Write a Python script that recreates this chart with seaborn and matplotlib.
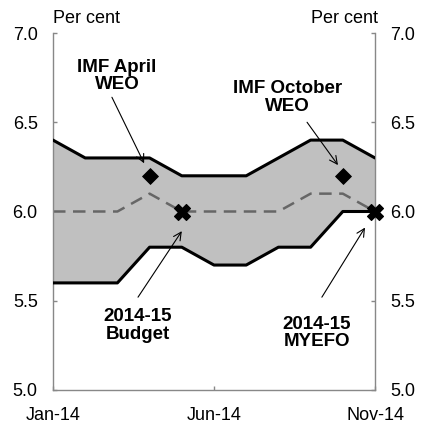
import matplotlib
matplotlib.use("Agg")
import matplotlib.pyplot as plt
import seaborn as sns
import pandas as pd
import numpy as np

months = ["Jan-14", "Feb-14", "Mar-14", "Apr-14", "May-14", "Jun-14",
          "Jul-14", "Aug-14", "Sep-14", "Oct-14", "Nov-14"]
upper = [6.4, 6.3, 6.3, 6.3, 6.2, 6.2, 6.2, 6.3, 6.4, 6.4, 6.3]
lower = [5.6, 5.6, 5.6, 5.8, 5.8, 5.7, 5.7, 5.8, 5.8, 6.0, 6.0]
middle = [6.0, 6.0, 6.0, 6.1, 6.0, 6.0, 6.0, 6.0, 6.1, 6.1, 6.0]
imf_months = ["Apr-14", "Oct-14"]
imf_values = [6.2, 6.2]
govt_months = ["May-14", "Nov-14"]
govt_values = [6.0, 6.0]
tick_labels = ["Jan-14", "Jun-14", "Nov-14"]

sns.set_style("white")
plt.rcParams['font.family'] = ['Liberation Sans', 'DejaVu Sans']
plt.rcParams['text.color'] = 'black'

idx = {m: i for i, m in enumerate(months)}
df = pd.DataFrame({"x": np.arange(len(months)), "upper": upper,
                   "lower": lower, "middle": middle})

fig = plt.figure(figsize=(4.24, 4.28), dpi=100)
ax = fig.add_axes([53/424, 1-390/428, (375-53)/424, (390-33)/428])

ax.fill_between(df["x"], df["lower"], df["upper"], color="#c0c0c0", lw=0, zorder=1)
sns.lineplot(data=df, x="x", y="upper", color="black", lw=2.2, ax=ax, zorder=3)
sns.lineplot(data=df, x="x", y="lower", color="black", lw=2.2, ax=ax, zorder=3)
sns.lineplot(data=df, x="x", y="middle", color="#666666", lw=1.8, ax=ax,
             dashes=False, zorder=2).lines[-1].set_dashes([5, 3])

sns.scatterplot(x=[idx[m] for m in imf_months], y=imf_values, marker="D",
                s=65, color="black", edgecolor="black", ax=ax, zorder=4)
sns.scatterplot(x=[idx[m] for m in govt_months], y=govt_values, marker="X",
                s=130, color="black", edgecolor="black", ax=ax, zorder=4,
                clip_on=False)

ax.set_xlim(0, 10)
ax.set_ylim(5.0, 7.0)
ax.set_xticks([idx[m] for m in tick_labels])
ax.set_xticklabels(tick_labels)
ax.set_yticks([5.0, 5.5, 6.0, 6.5, 7.0])
ax.set_yticklabels(["5.0", "5.5", "6.0", "6.5", "7.0"])
ax.set_xlabel("")
ax.set_ylabel("")
ax.tick_params(axis="both", direction="in", length=3, width=1, color="#888888",
               labelcolor="black", labelsize=13, pad=11)
ax.tick_params(axis="y", left=True, right=True, labelleft=True, labelright=True)
ax.tick_params(axis="x", bottom=True, pad=12)

for side in ["left", "right", "bottom"]:
    ax.spines[side].set_color("#888888")
    ax.spines[side].set_linewidth(1)
    ax.spines[side].set_visible(True)
ax.spines["top"].set_visible(False)

ax.text(0, 1.028, "Per cent", transform=ax.transAxes, ha="left", va="baseline",
        fontsize=13, color="black")
ax.text(1.01, 1.028, "Per cent", transform=ax.transAxes, ha="right", va="baseline",
        fontsize=13, color="black")

bold = dict(fontsize=13.5, fontweight="bold", ha="center", va="center",
            linespacing=1.05, color="black")
ax.text(1.99, 6.76, "IMF April\nWEO", **bold)
ax.text(7.27, 6.64, "IMF October\nWEO", **bold)
ax.text(2.64, 5.36, "2014-15\nBudget", **bold)
ax.text(8.2, 5.32, "2014-15\nMYEFO", **bold)

arrow = dict(arrowstyle="->", lw=0.8, color="black", mutation_scale=14, shrinkA=0, shrinkB=0)
ax.annotate("", xy=(2.83, 6.27), xytext=(1.83, 6.64), arrowprops=arrow)
ax.annotate("", xy=(8.85, 6.26), xytext=(7.89, 6.50), arrowprops=arrow)
ax.annotate("", xy=(4.0, 5.89), xytext=(2.64, 5.52), arrowprops=arrow)
ax.annotate("", xy=(9.69, 5.91), xytext=(8.35, 5.52), arrowprops=arrow)

fig.savefig("out.png", dpi=100)
